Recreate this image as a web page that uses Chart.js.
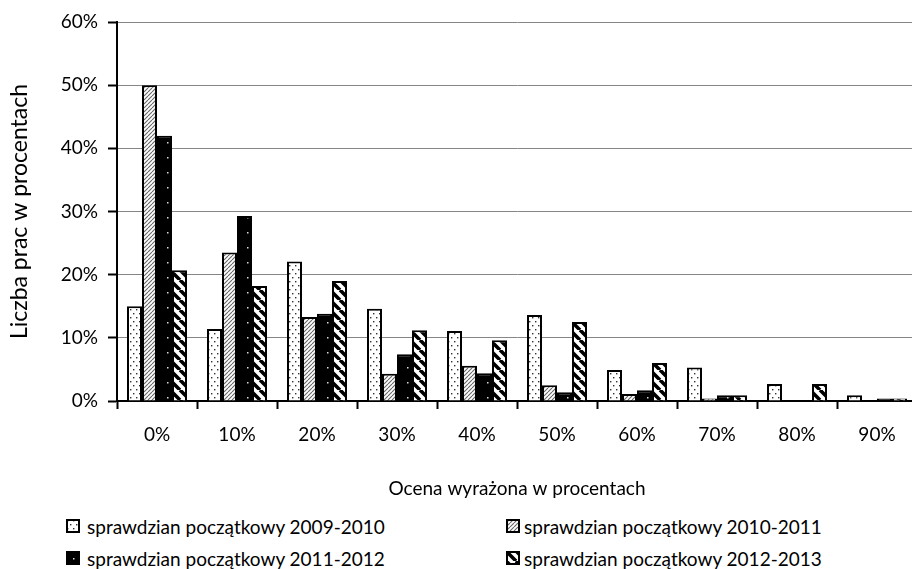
<!DOCTYPE html>
<html lang="pl">
<head>
<meta charset="utf-8">
<script src="https://cdn.jsdelivr.net/npm/chart.js@4.4.0/dist/chart.umd.min.js"></script>
<style>
  html, body { margin: 0; padding: 0; background: #fff; overflow: hidden; }
  #wrap { position: relative; width: 912px; height: 569px; overflow: hidden; font-family: Lato, sans-serif; color: #000; }
  #chartBox { position: absolute; left: 0; top: 0; }
  .sw { position: absolute; width: 14px; height: 14px; }
  .lt { position: absolute; font-size: 19px; line-height: 24px; white-space: nowrap; }
</style>
</head>
<body>
<div id="wrap">
  <canvas id="chartBox" width="920" height="508"></canvas>
  <canvas class="sw" id="sw0" width="14" height="14" style="left:66px;top:519px"></canvas>
  <div class="lt" id="lt0" style="left:87px;top:515px"></div>
  <canvas class="sw" id="sw1" width="14" height="14" style="left:506px;top:519px"></canvas>
  <div class="lt" id="lt1" style="left:524px;top:515px"></div>
  <canvas class="sw" id="sw2" width="14" height="14" style="left:66px;top:551px"></canvas>
  <div class="lt" id="lt2" style="left:87px;top:547px"></div>
  <canvas class="sw" id="sw3" width="14" height="14" style="left:506px;top:551px"></canvas>
  <div class="lt" id="lt3" style="left:524px;top:547px"></div>
</div>
<script>
const categories = ['0%', '10%', '20%', '30%', '40%', '50%', '60%', '70%', '80%', '90%'];
const seriesNames = [
  'sprawdzian początkowy 2009-2010',
  'sprawdzian początkowy 2010-2011',
  'sprawdzian początkowy 2011-2012',
  'sprawdzian początkowy 2012-2013'
];
const s2009 = [15.0, 11.4, 22.1, 14.6, 11.1, 13.6, 4.9, 5.3, 2.7, 0.9];
const s2010 = [50.0, 23.5, 13.3, 4.3, 5.6, 2.5, 1.1, 0.4, 0, 0];
const s2011 = [42.0, 29.3, 13.8, 7.4, 4.4, 1.4, 1.7, 0.9, 0, 0.4];
const s2012 = [20.7, 18.2, 19.0, 11.2, 9.6, 12.5, 6.0, 0.9, 2.7, 0.4];
const yTicks = [0, 10, 20, 30, 40, 50, 60];

// small pattern tiles for the bar fills
function tile(w, h, bg, draw) {
  const c = document.createElement('canvas');
  c.width = w; c.height = h;
  const g = c.getContext('2d');
  g.fillStyle = bg;
  g.fillRect(0, 0, w, h);
  draw(g);
  return c;
}

const tiles = [
  // white with sparse dots
  tile(6, 8, '#fff', g => {
    g.fillStyle = '#333';
    g.fillRect(1, 1, 1.4, 1.4);
    g.fillRect(4, 5, 1.4, 1.4);
  }),
  // white with thin gray "/" hatching
  tile(4, 4, '#fff', g => {
    g.strokeStyle = '#666';
    g.lineWidth = 1.1;
    g.beginPath();
    for (const k of [-4, 0, 4]) { g.moveTo(k, 4); g.lineTo(k + 4, 0); }
    g.stroke();
  }),
  // black with white dots
  tile(16, 15, '#000', g => {
    g.fillStyle = '#ddd';
    g.fillRect(7, 7, 1.5, 1.5);
  }),
  // white with thick black "\" stripes
  tile(10, 10, '#fff', g => {
    g.strokeStyle = '#000';
    g.lineWidth = 3.6;
    g.beginPath();
    for (const k of [-10, 0, 10]) { g.moveTo(k, 0); g.lineTo(k + 10, 10); }
    g.stroke();
  })
];

const canvas = document.getElementById('chartBox');
const ctx = canvas.getContext('2d');
const fills = tiles.map(t => ctx.createPattern(t, 'repeat'));
const values = [s2009, s2010, s2011, s2012];

const font = { family: 'Lato, sans-serif', size: 19 };

new Chart(ctx, {
  type: 'bar',
  data: {
    labels: categories,
    datasets: values.map((v, i) => ({
      label: seriesNames[i],
      data: v,
      backgroundColor: fills[i],
      borderColor: '#000',
      borderWidth: 2,
      barPercentage: 1,
      categoryPercentage: 0.75
    }))
  },
  options: {
    responsive: false,
    animation: false,
    devicePixelRatio: 1,
    layout: { padding: { top: 22, right: 3, left: 0, bottom: 0 } },
    plugins: { legend: { display: false }, tooltip: { enabled: false } },
    scales: {
      x: {
        grid: { drawOnChartArea: false, tickColor: '#000', tickLength: 8, tickWidth: 2 },
        border: { color: '#000', width: 2 },
        ticks: { color: '#000', font, padding: 14 },
        title: { display: true, text: 'Ocena wyrażona w procentach', color: '#000', font, padding: { top: 0, bottom: 8 } },
        afterFit: s => { s.height = 107; }
      },
      y: {
        min: yTicks[0],
        max: yTicks[yTicks.length - 1],
        afterBuildTicks: s => { s.ticks = yTicks.map(v => ({ value: v })); },
        ticks: { color: '#000', font, padding: 10, callback: v => v + '%' },
        grid: { color: '#868686', lineWidth: 1, tickColor: '#000', tickLength: 9, tickWidth: 2 },
        border: { color: '#000', width: 2 },
        title: {
          display: true, text: 'Liczba prac w procentach', color: '#000',
          font: { family: 'Lato, sans-serif', size: 23 }, padding: { top: 6, bottom: 0 }
        },
        afterFit: s => { s.width = 117; }
      }
    }
  }
});

// legend: pattern swatches plus series names
seriesNames.forEach((name, i) => {
  const sw = document.getElementById('sw' + i);
  const g = sw.getContext('2d');
  g.fillStyle = g.createPattern(tiles[i], 'repeat');
  g.fillRect(0, 0, 14, 14);
  g.strokeStyle = '#000';
  g.lineWidth = 2;
  g.strokeRect(1, 1, 12, 12);
  document.getElementById('lt' + i).textContent = name;
});
</script>
</body>
</html>
